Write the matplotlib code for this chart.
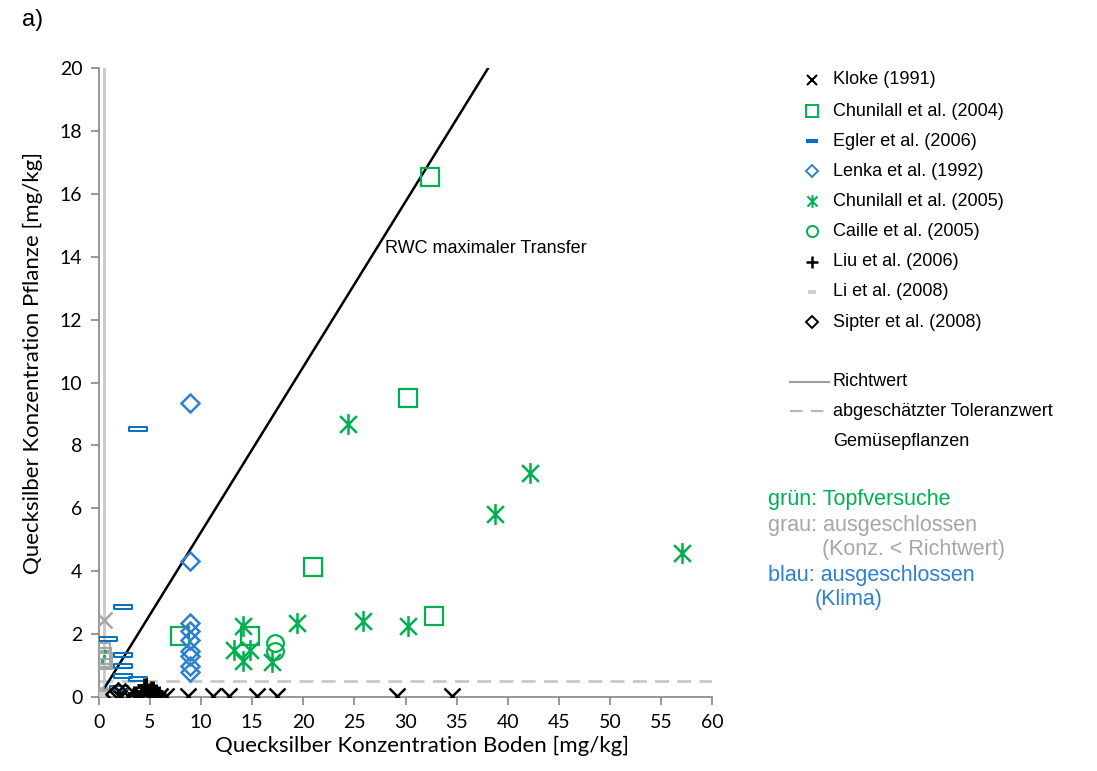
import numpy as np
import matplotlib
matplotlib.use("Agg")
import matplotlib.pyplot as plt
from matplotlib.path import Path
from matplotlib.lines import Line2D

# ---- data: soil Hg vs. plant Hg [mg/kg] ----
kloke_x = [2.0, 2.8, 4.0, 6.0, 6.6, 8.7, 11.2, 12.7, 15.5, 17.4, 29.2, 34.6]
kloke_y = [0.03, 0.03, 0.03, 0.03, 0.03, 0.03, 0.03, 0.03, 0.03, 0.03, 0.03, 0.03]

chun04_x = [32.4, 30.2, 20.9, 32.8, 14.8, 7.9]
chun04_y = [16.53, 9.5, 4.13, 2.58, 1.94, 1.94]

egler_x = [3.8, 2.35, 0.9, 2.35, 2.35, 2.35, 3.8, 2.0]
egler_y = [8.52, 2.86, 1.84, 1.34, 0.99, 0.67, 0.57, 0.3]

lenka_x = [8.9, 8.9, 8.9, 8.9, 8.9, 8.9, 8.9, 8.9, 8.9]
lenka_y = [9.35, 4.32, 2.35, 2.1, 1.8, 1.45, 1.3, 1.0, 0.8]

chun05_x = [24.4, 42.2, 38.8, 57.1, 19.4, 25.8, 30.2, 14.1, 13.2, 14.8, 14.1, 16.9]
chun05_y = [8.68, 7.12, 5.82, 4.58, 2.35, 2.42, 2.26, 2.26, 1.5, 1.5, 1.15, 1.12]

caille_x = [17.2, 17.2]
caille_y = [1.72, 1.46]

liu_x = [4.5, 4.8, 5.2, 5.5, 4.2, 5.0, 5.8, 3.5]
liu_y = [0.35, 0.2, 0.25, 0.15, 0.15, 0.1, 0.1, 0.08]

li_x = [0.2, 0.3]
li_y = [0.05, 0.1]

sipter_x = [1.9, 2.5, 1.5]
sipter_y = [0.2, 0.15, 0.08]

# points below the soil guide value (excluded, grey)
excl_x_x = [0.5, 0.3, 0.1]
excl_x_y = [2.45, 0.02, 0.05]
excl_sq_x = [0.3, 0.4, 0.3, 0.5]
excl_sq_y = [1.45, 1.3, 1.2, 1.15]
excl_st_x = [0.2, 0.35, 0.15]
excl_st_y = [0.05, 0.1, 0.0]
excl_green_x = [0.3, 0.45, 0.6]
excl_green_y = [1.15, 1.3, 1.45]

richtwert_soil = 0.5
toleranz_plant = 0.5
rwc_slope = 0.525

x_ticks = list(range(0, 61, 5))
y_ticks = list(range(0, 21, 2))

GREEN = "#00B050"
BLUE = "#0070C0"
LBLUE = "#2E80D0"
GREY = "#A6A6A6"
AX_GREY = "#868686"

# six-armed asterisk (X plus vertical bar)
ast_path = Path(
    [(-0.5, -0.5), (0.5, 0.5), (-0.5, 0.5), (0.5, -0.5), (0, -0.62), (0, 0.62)],
    [Path.MOVETO, Path.LINETO, Path.MOVETO, Path.LINETO, Path.MOVETO, Path.LINETO],
)
# flat hollow bar
bar_path = Path(
    [(-1, -0.22), (1, -0.22), (1, 0.22), (-1, 0.22), (-1, -0.22)],
    [Path.MOVETO, Path.LINETO, Path.LINETO, Path.LINETO, Path.CLOSEPOLY],
)

W, H = 1097, 771
fig = plt.figure(figsize=(W / 100, H / 100), dpi=100)
ax = fig.add_axes([99 / W, 1 - 697 / H, 613 / W, 629 / H])
ax.set_xlim(0, 60)
ax.set_ylim(0, 20)

TICKFONT = "Lato"

# guide values
ax.plot([richtwert_soil, richtwert_soil], [0, 20], color="#C8C8C8", lw=2, zorder=1)
ax.plot([0, 60], [toleranz_plant, toleranz_plant], color="#C8C8C8", lw=2,
        dashes=(5, 3), zorder=1)

# maximal transfer line
xr = np.array([0, 20 / rwc_slope])
ax.plot(xr, rwc_slope * xr, color="black", lw=1.8, zorder=2)
ax.text(28.0, 14.25, "RWC maximaler Transfer", fontsize=13,
        family="Liberation Sans", va="center", ha="left")

mk = dict(linestyle="none", fillstyle="none", zorder=3)
ax.plot(excl_sq_x, excl_sq_y, marker="s", ms=11, mec=GREY, mew=1.5, **mk)
ax.plot(excl_green_x, excl_green_y, marker=".", ms=3, mec=GREEN, **mk)
ax.plot(excl_x_x, excl_x_y, marker="x", ms=11, mec=GREY, mew=1.8, **mk)
ax.plot(excl_st_x, excl_st_y, marker=ast_path, ms=12, mec=GREY, mew=1.8, **mk)

ax.plot(kloke_x, kloke_y, marker="x", ms=11, mec="black", mew=1.8, **mk)
ax.plot(chun04_x, chun04_y, marker="s", ms=13, mec=GREEN, mew=1.6, **mk)
ax.plot(egler_x, egler_y, marker=bar_path, ms=13, mec=BLUE, mew=1.4, **mk)
ax.plot(lenka_x, lenka_y, marker="D", ms=9, mec=LBLUE, mew=1.8, **mk)
ax.plot(chun05_x, chun05_y, marker=ast_path, ms=15, mec=GREEN, mew=1.8, **mk)
ax.plot(caille_x, caille_y, marker="o", ms=12, mec=GREEN, mew=1.6, **mk)
ax.plot(liu_x, liu_y, marker="+", ms=11, mec="black", mew=3.5, **mk)
ax.plot(li_x, li_y, marker="_", ms=6, mec="#D0D0D0", mew=3, **mk)
ax.plot(sipter_x, sipter_y, marker="D", ms=8, mec="black", mew=1.8, **mk)

# axes styling
for s in ("top", "right"):
    ax.spines[s].set_visible(False)
for s in ("left", "bottom"):
    ax.spines[s].set_color(AX_GREY)
    ax.spines[s].set_linewidth(1.2)
ax.set_xticks(x_ticks)
ax.set_yticks(y_ticks)
ax.tick_params(axis="both", direction="out", length=6, width=1.2, color=AX_GREY,
               labelsize=14, pad=6)
for lab in ax.get_xticklabels() + ax.get_yticklabels():
    lab.set_family(TICKFONT)
ax.set_xlabel("Quecksilber Konzentration Boden [mg/kg]", fontsize=16,
              family=TICKFONT, va="center", ha="center")
ax.set_ylabel("Quecksilber Konzentration Pflanze [mg/kg]", fontsize=16,
              family=TICKFONT, va="center", ha="center")
ax.xaxis.set_label_coords(0.527, -0.077)
ax.yaxis.set_label_coords(-0.107, 0.531)

fig.text(22 / W, 1 - 20 / H, "a)", fontsize=17, family="Liberation Sans",
         va="center", ha="left")

# legend (drawn in figure pixels)
def fy(py):
    return 1 - py / H

LFONT = dict(fontsize=13, family="Liberation Sans", va="center", ha="left")
entries = [
    ("Kloke (1991)", dict(marker="x", ms=7, mec="black", mew=1.5)),
    ("Chunilall et al. (2004)", dict(marker="s", ms=8, mec=GREEN, mew=1.4)),
    ("Egler et al. (2006)", dict(marker="_", ms=9, mec=BLUE, mew=3)),
    ("Lenka et al. (1992)", dict(marker="D", ms=6, mec=LBLUE, mew=1.4)),
    ("Chunilall et al. (2005)", dict(marker=ast_path, ms=9, mec=GREEN, mew=1.5)),
    ("Caille et al. (2005)", dict(marker="o", ms=8, mec=GREEN, mew=1.4)),
    ("Liu et al. (2006)", dict(marker="+", ms=8, mec="black", mew=1.8)),
    ("Li et al. (2008)", dict(marker="_", ms=6, mec="#D0D0D0", mew=3)),
    ("Sipter et al. (2008)", dict(marker="D", ms=6, mec="black", mew=1.4)),
]
row_y = [80, 111, 141, 171, 201, 231, 262, 292, 322]
for (label, style), py in zip(entries, row_y):
    fig.add_artist(Line2D([812 / W], [fy(py)], transform=fig.transFigure,
                          linestyle="none", fillstyle="none", **style))
    fig.text(833 / W, fy(py), label, **LFONT)

fig.add_artist(Line2D([790 / W, 829 / W], [fy(382)] * 2, transform=fig.transFigure,
                      color="#A0A0A0", lw=1.5))
fig.text(833 / W, fy(382), "Richtwert", **LFONT)
fig.add_artist(Line2D([790 / W, 829 / W], [fy(411)] * 2, transform=fig.transFigure,
                      color="#B8B8B8", lw=1.5, dashes=(6, 4)))
fig.text(833 / W, fy(411), "abgeschätzter Toleranzwert", **LFONT)
fig.text(833 / W, fy(441), "Gemüsepflanzen", **LFONT)

CFONT = dict(fontsize=15.5, family="Liberation Sans", va="center", ha="left")
fig.text(768 / W, fy(500), "grün: Topfversuche", color=GREEN, **CFONT)
fig.text(768 / W, fy(525), "grau: ausgeschlossen", color=GREY, **CFONT)
fig.text(822 / W, fy(550), "(Konz. < Richtwert)", color=GREY, **CFONT)
fig.text(768 / W, fy(575), "blau: ausgeschlossen", color=LBLUE, **CFONT)
fig.text(815 / W, fy(600), "(Klima)", color=LBLUE, **CFONT)

fig.savefig("out.png", dpi=100)
